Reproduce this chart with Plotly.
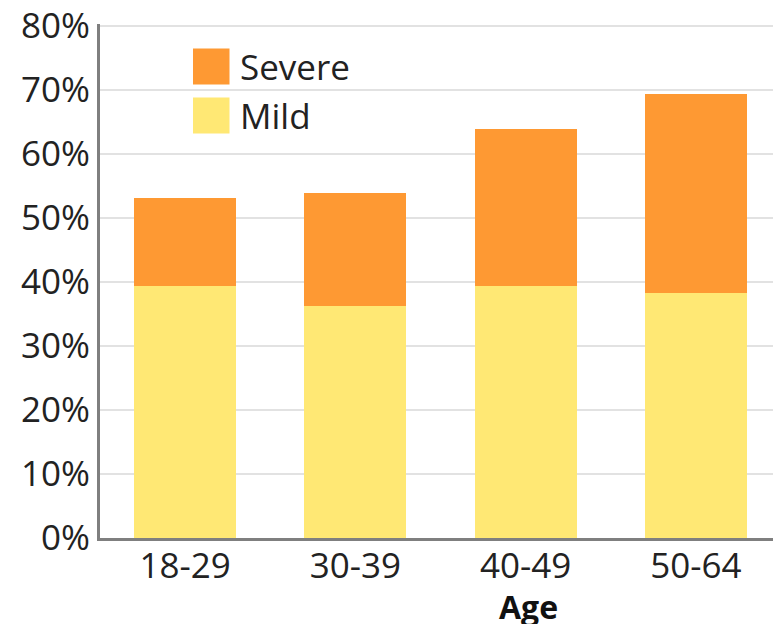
import plotly.graph_objects as go

ages = ["18-29", "30-39", "40-49", "50-64"]
mild = [39.4, 36.3, 39.4, 38.3]
severe_total = [53.1, 53.9, 63.9, 69.4]
severe = [round(t - m, 1) for t, m in zip(severe_total, mild)]
y_ticks = [0, 10, 20, 30, 40, 50, 60, 70, 80]
y_tick_labels = [f"{v}%" for v in y_ticks]

ORANGE = "#FE9933"
YELLOW = "#FFE874"
FONT = "Open Sans"

# The page body adds an 8px margin; figure is sized so the plot fills the window.
W, H = 773, 616
L, T, B = 92, 16, 86
PW, PH = W - L, H - T - B  # 681 x 514
Y_TOP = 80 * PH / 512


def px(X):  # reference-window x pixel -> paper x
    return (X - 8 - L) / PW


def py(Y):  # reference-window y pixel -> paper y
    return (T + PH - (Y - 8)) / PH


fig = go.Figure()
fig.add_trace(go.Bar(x=ages, y=mild, name="Mild", marker_color=YELLOW, marker_line_width=0))
fig.add_trace(go.Bar(x=ages, y=severe, name="Severe", marker_color=ORANGE, marker_line_width=0))

# manual legend (large swatches)
legend_items = [("Severe", ORANGE), ("Mild", YELLOW)]
for i, (label, col) in enumerate(legend_items):
    top_px = 48.5 + i * 49
    fig.add_shape(type="rect", xref="paper", yref="paper",
                  x0=px(193), x1=px(229.5),
                  y0=py(top_px + 36), y1=py(top_px),
                  fillcolor=col, line_width=0, layer="above")
    fig.add_annotation(xref="paper", yref="paper", x=px(238),
                       y=py(top_px + 18), text=label, showarrow=False,
                       xanchor="left", yanchor="middle",
                       font=dict(family=FONT, size=35, color="#222"))

fig.add_annotation(xref="paper", yref="paper", x=px(528), y=py(606),
                   text="<b>Age</b>", showarrow=False, xanchor="center", yanchor="middle",
                   font=dict(family=FONT, size=32, color="#111"))

fig.update_layout(
    barmode="stack",
    bargap=0.4,
    width=W, height=H,
    margin=dict(l=L, r=0, t=T, b=B, autoexpand=False),
    plot_bgcolor="white", paper_bgcolor="white",
    showlegend=False,
    font=dict(family=FONT, size=35, color="#222"),
)
fig.update_xaxes(showline=True, linecolor="#7f7f7f", linewidth=3, ticks="",
                 tickfont=dict(size=35), showgrid=False, ticklabelstandoff=-5)
fig.update_yaxes(range=[0, Y_TOP], tickmode="array", tickvals=y_ticks, ticktext=y_tick_labels,
                 showline=True, linecolor="#7f7f7f", linewidth=3,
                 gridcolor="#e2e2e2", gridwidth=2, ticklabeloverflow="allow",
                 ticks="", tickfont=dict(size=35), zeroline=False)

fig.write_html("out.html")
